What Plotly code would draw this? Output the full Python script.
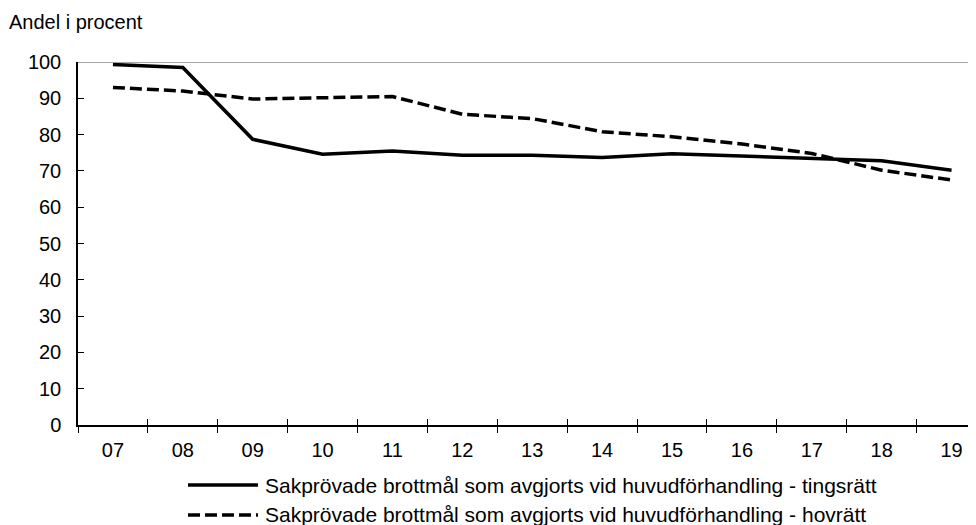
import plotly.graph_objects as go

years = ["07", "08", "09", "10", "11", "12", "13", "14", "15", "16", "17", "18", "19"]
tingsratt = [99.3, 98.5, 78.7, 74.6, 75.5, 74.3, 74.3, 73.7, 74.7, 74.1, 73.4, 72.8, 70.2]
hovratt = [93.0, 92.0, 89.8, 90.2, 90.5, 85.6, 84.4, 80.8, 79.4, 77.4, 74.8, 70.2, 67.5]
series_names = [
    "Sakprövade brottmål som avgjorts vid huvudförhandling - tingsrätt",
    "Sakprövade brottmål som avgjorts vid huvudförhandling - hovrätt",
]
y_title = "Andel i procent"

FONT = "Liberation Sans, Arial, sans-serif"
DASH = "12px,5px"

fig = go.Figure()
fig.add_trace(go.Scatter(x=years, y=tingsratt, mode="lines", name=series_names[0],
                         line=dict(color="black", width=3.5), showlegend=False))
fig.add_trace(go.Scatter(x=years, y=hovratt, mode="lines", name=series_names[1],
                         line=dict(color="black", width=3.5, dash=DASH), showlegend=False))
# helper trace so the overlay axis (inner half of crossing ticks) is drawn
fig.add_trace(go.Scatter(x=[None], y=[None], xaxis="x2", yaxis="y", showlegend=False,
                         hoverinfo="skip"))

x_hi = 12.35
# page body has an 8px margin, so the figure is shifted by 8px
fig.update_layout(
    width=968, height=517,
    margin=dict(l=70, r=0, t=54, b=100),
    paper_bgcolor="white", plot_bgcolor="white",
    font=dict(family=FONT, size=19, color="black"),
    xaxis=dict(type="category", range=[-0.5, x_hi], tickson="boundaries",
               ticks="outside", ticklen=6, tickcolor="black", tickwidth=1,
               showline=True, linecolor="black", linewidth=1.5,
               showgrid=False, zeroline=False,
               tickfont=dict(size=20), ticklabelstandoff=6),
    xaxis2=dict(overlaying="x", anchor="y", side="bottom", type="linear",
                range=[-0.5, x_hi], tickmode="array",
                tickvals=[i - 0.5 for i in range(len(years))],
                ticks="inside", ticklen=6, tickcolor="black", tickwidth=1,
                showticklabels=False, showline=False, showgrid=False, zeroline=False),
    yaxis=dict(range=[0, 100], dtick=10, ticks="inside", ticklen=6,
               tickcolor="black", tickwidth=1,
               showline=True, linecolor="black", linewidth=1.5,
               showgrid=False, zeroline=False,
               tickfont=dict(size=20), ticklabelstandoff=11),
)

# top border line at 100
fig.add_shape(type="line", xref="paper", yref="y", x0=0, x1=1, y0=100, y1=100,
              line=dict(color="#888888", width=1.5))

# title
fig.add_annotation(text=y_title, xref="paper", yref="paper", x=-0.079, y=1.11,
                   xanchor="left", yanchor="middle", showarrow=False,
                   font=dict(size=20))

# manual legend
leg_rows = [(-0.1653, "solid"), (-0.2479, DASH)]
for (yy, dash), name in zip(leg_rows, series_names):
    fig.add_shape(type="line", xref="paper", yref="paper", x0=0.1225, x1=0.2004,
                  y0=yy, y1=yy, line=dict(color="black", width=3.5, dash=dash))
    fig.add_annotation(text=name, xref="paper", yref="paper", x=0.2060, y=yy,
                       xanchor="left", yanchor="middle", showarrow=False,
                       font=dict(size=21))

fig.write_html("out.html")
